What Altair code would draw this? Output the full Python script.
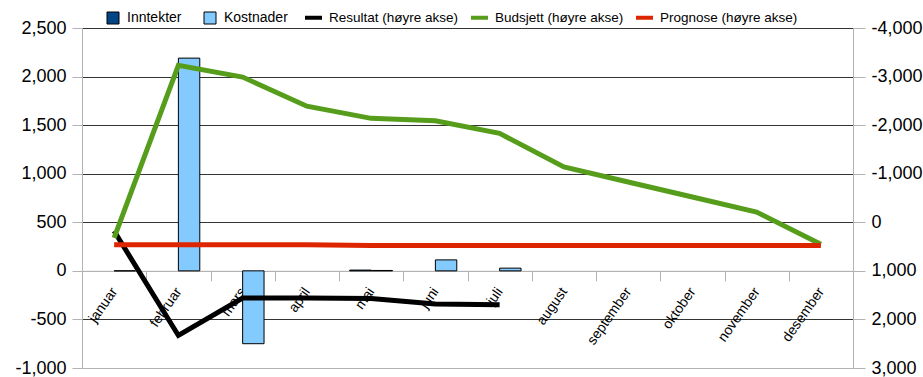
import altair as alt
import pandas as pd

# Months on the category axis
months = ["januar", "februar", "mars", "april", "mai", "juni", "juli",
          "august", "september", "oktober", "november", "desember"]

# Bar series (left axis)
inntekter = [None, None, None, None, 8, None, None, None, None, None, None, None]
kostnader = [0, 2190, -750, None, 4, 113, 28, None, None, None, None, None]

# Line series (right axis, reversed)
resultat = [180, 2330, 1560, 1560, 1570, 1680, 1700, None, None, None, None, None]
budsjett = [320, -3230, -2990, -2390, -2140, -2090, -1830, -1140, -830, -520, -210, 450]
prognose = [460, 460, 460, 460, 480, 480, 480, 480, 480, 480, 480, 480]

bar_names = ["Inntekter", "Kostnader"]
bar_colors = ["#004586", "#83caff"]
line_names = ["Resultat (høyre akse)", "Budsjett (høyre akse)", "Prognose (høyre akse)"]
line_colors = ["#000000", "#579d1c", "#dd2600"]

FONT = "Liberation Sans"
GRID = "#333333"
GREY = "#b3b3b3"
PLOT_W, PLOT_H = 771, 340

# Thousands separator with a plain hyphen for negatives
NUM_LABEL = "replace(datum.label, '\u2212', '-')"

# Long-format tables
bar_rows = []
for i, m in enumerate(months):
    for name, vals in zip(bar_names, (inntekter, kostnader)):
        if vals[i] is not None:
            bar_rows.append({"maaned": m, "idx": i, "post": name, "verdi": vals[i]})
bars_df = pd.DataFrame(bar_rows)


def line_frame(name, vals):
    rows = [{"maaned": m, "idx": i, "serie": name, "verdi": v}
            for i, (m, v) in enumerate(zip(months, vals)) if v is not None]
    return pd.DataFrame(rows)


# x axis sits on the zero line of the left scale (domain -1000..2500)
zero_offset = -PLOT_H * 1000 / 3500

x_enc = alt.X(
    "maaned:N", sort=months, title=None,
    scale=alt.Scale(paddingInner=0, paddingOuter=0),
    axis=alt.Axis(orient="bottom", offset=zero_offset, labelAngle=-55,
                  labelAlign="right", labelBaseline="middle",
                  labelFontSize=14, labelColor="black", labelFont=FONT,
                  labelPadding=8, tickSize=10, tickColor=GREY, domainColor=GREY,
                  tickBand="extent", grid=False),
)

bars = alt.Chart(bars_df).mark_bar(stroke="black", strokeWidth=1).encode(
    x=x_enc,
    xOffset=alt.XOffset("post:N", scale=alt.Scale(domain=bar_names, paddingInner=0, paddingOuter=0.5)),
    y=alt.Y("verdi:Q", title=None,
            scale=alt.Scale(domain=[-1000, 2500], nice=False, zero=False),
            axis=alt.Axis(orient="left", values=list(range(-1000, 2501, 500)), format=",d",
                          labelExpr=NUM_LABEL,
                          labelFontSize=18, labelColor="black", labelFont=FONT,
                          tickSize=10, tickColor=GREY, domainColor=GREY, labelPadding=6,
                          grid=True, gridWidth=1,
                          gridColor={"condition": {"test": "datum.value === 0 || datum.value === -1000",
                                                   "value": GREY},
                                     "value": GRID})),
    color=alt.Color("post:N", scale=alt.Scale(domain=bar_names, range=bar_colors),
                    legend=alt.Legend(orient="none", legendX=24, legendY=-17, direction="horizontal",
                                      title=None, symbolType="square", symbolSize=144,
                                      symbolStrokeColor="black", symbolStrokeWidth=1,
                                      labelFontSize=14, labelFont=FONT, labelColor="black",
                                      labelOffset=7, columnPadding=20, padding=0)),
)

y_right = alt.Y("verdi:Q", title=None,
                scale=alt.Scale(domain=[-4000, 3000], nice=False, zero=False, reverse=True),
                axis=alt.Axis(orient="right", values=list(range(-4000, 3001, 1000)), format=",d",
                              labelExpr=NUM_LABEL,
                              labelFontSize=18, labelColor="black", labelFont=FONT,
                              tickSize=12, tickColor=GREY, domainColor=GREY, labelPadding=6,
                              grid=False))

stroke_enc = alt.Stroke("serie:N", scale=alt.Scale(domain=line_names, range=line_colors),
                        legend=alt.Legend(orient="none", legendX=221, legendY=-21, direction="horizontal",
                                          title=None, symbolType="stroke", symbolSize=289,
                                          symbolStrokeWidth=4,
                                          labelFontSize=13.5, labelFont=FONT, labelColor="black",
                                          labelOffset=5, columnPadding=4, padding=0))

line_layers = [
    alt.Chart(line_frame(name, vals)).mark_line(strokeWidth=5).encode(
        x=x_enc, y=y_right, stroke=stroke_enc, order="idx:Q")
    for name, vals in zip(line_names, (resultat, budsjett, prognose))
]

chart = alt.layer(bars, alt.layer(*line_layers)).resolve_scale(y="independent").properties(
    width=PLOT_W, height=PLOT_H,
    padding={"left": 82, "top": 28, "right": 70, "bottom": 9},
    autosize=alt.AutoSizeParams(type="none"),
    background="white",
).configure(font=FONT).configure_view(strokeWidth=0)

chart.save("out.html", embed_options={"renderer": "svg", "actions": False})
